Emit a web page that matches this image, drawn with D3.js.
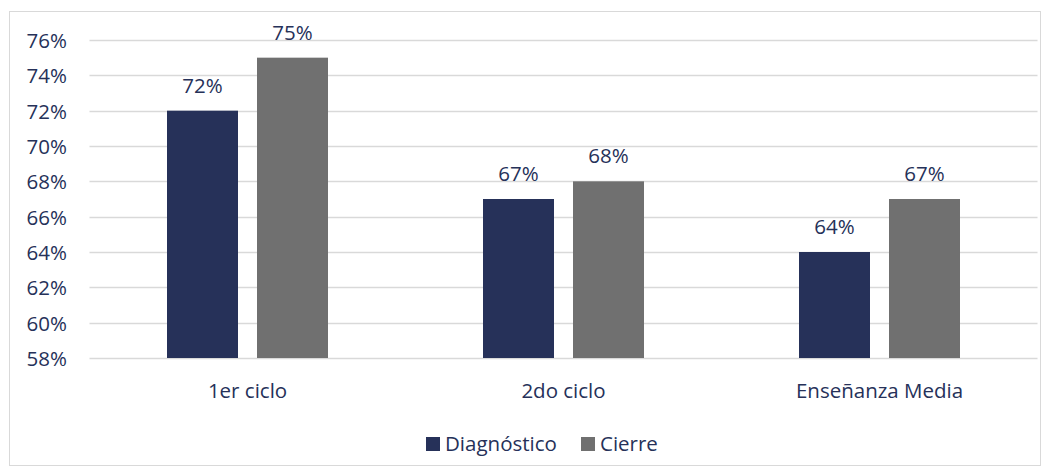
<!DOCTYPE html>
<html><head><meta charset="utf-8">
<script src="https://cdn.jsdelivr.net/npm/d3@7"></script>
<style>body{margin:0;background:#fff;}svg{display:block;}svg text{font-family:"Open Sans","Noto Sans",sans-serif;}</style>
</head><body><svg id="c" width="1053" height="475"></svg>
<script>
const categories = ["1er ciclo", "2do ciclo", "Enseñanza Media"];
const seriesNames = ["Diagnóstico", "Cierre"];
const diagnostico = [72, 67, 64];
const cierre = [75, 68, 67];
const yTicks = [58, 60, 62, 64, 66, 68, 70, 72, 74, 76];
const colors = ["#263159", "#707070"];
const textColor = "#263159";
const FS = 20.5;

const svg = d3.select("#c");
svg.append("rect").attr("x", 9.5).attr("y", 11.5).attr("width", 1031).attr("height", 454)
  .attr("fill", "#fff").attr("stroke", "#d9d9d9");

const x = d3.scaleBand().domain(categories).range([89.5, 1037.5]).paddingInner(0).paddingOuter(0);
const xi = d3.scaleBand().domain(seriesNames).range([77.5, 316 - 77.5]).paddingInner(19/90).paddingOuter(0);
const y = d3.scaleLinear().domain([58, 76]).range([358, 40]);

const g = svg.append("g");
g.selectAll("line.grid").data(yTicks).join("line")
  .attr("x1", 89.5).attr("x2", 1037.5)
  .attr("y1", d => Math.round(y(d)) + 0.5).attr("y2", d => Math.round(y(d)) + 0.5)
  .attr("stroke", "#d9d9d9").attr("stroke-width", 1.3);

const yAxis = d3.axisLeft(y).tickValues(yTicks).tickFormat(d => d + "%").tickSize(0).tickPadding(0);
const ya = svg.append("g").attr("transform", "translate(67,0)").call(yAxis)
  .attr("font-family", null).attr("font-size", FS);
ya.select(".domain").remove();
ya.selectAll("text").attr("fill", textColor).attr("dy", "0.36em");

const data = categories.map((c, i) => ({cat: c, vals: [diagnostico[i], cierre[i]]}));
const cg = svg.selectAll("g.cat").data(data).join("g").attr("class", "cat")
  .attr("transform", d => `translate(${x(d.cat)},0)`);
cg.selectAll("rect").data(d => d.vals.map((v, j) => ({v, s: seriesNames[j], j}))).join("rect")
  .attr("x", d => xi(d.s)).attr("width", xi.bandwidth())
  .attr("y", d => y(d.v)).attr("height", d => y(58) - y(d.v))
  .attr("fill", d => colors[d.j]);
cg.selectAll("text.lbl").data(d => d.vals.map((v, j) => ({v, s: seriesNames[j], j}))).join("text")
  .attr("class", "lbl")
  .attr("x", d => xi(d.s) + xi.bandwidth() / 2).attr("y", d => y(d.v) - 18)
  .attr("text-anchor", "middle").attr("fill", textColor).attr("font-size", FS)
  .text(d => d.v + "%");

const xAxis = d3.axisBottom(x).tickSize(0).tickPadding(0);
const xa = svg.append("g").attr("transform", "translate(0,358)").call(xAxis)
  .attr("font-family", null).attr("font-size", FS);
xa.select(".domain").remove();
xa.selectAll("text").attr("fill", textColor).attr("dy", "0").attr("y", 40);

const legend = svg.append("g");
const legX = [426, 581];
seriesNames.forEach((s, i) => {
  legend.append("rect").attr("x", legX[i]).attr("y", 437).attr("width", 14).attr("height", 14).attr("fill", colors[i]);
  legend.append("text").attr("x", legX[i] + 19).attr("y", 451).attr("fill", textColor).attr("font-size", FS).text(s);
});
</script></body></html>
